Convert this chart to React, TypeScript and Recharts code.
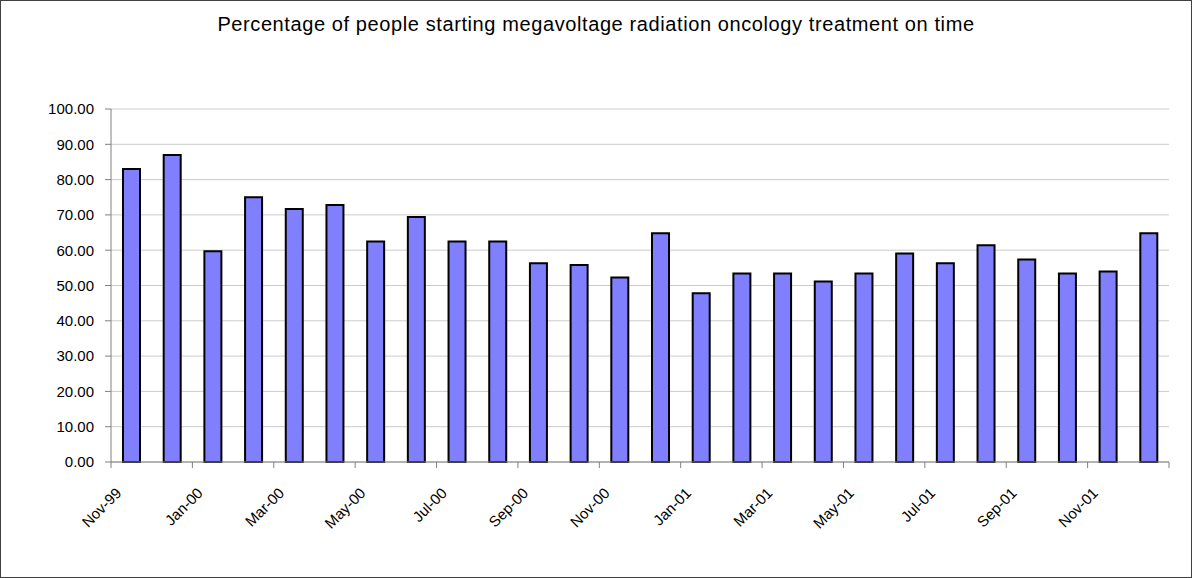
import { BarChart, Bar, XAxis, YAxis, CartesianGrid } from "recharts";

const months = [
    "Nov-99", "Dec-99", "Jan-00", "Feb-00", "Mar-00", "Apr-00", "May-00",
    "Jun-00", "Jul-00", "Aug-00", "Sep-00", "Oct-00", "Nov-00", "Dec-00",
    "Jan-01", "Feb-01", "Mar-01", "Apr-01", "May-01", "Jun-01", "Jul-01",
    "Aug-01", "Sep-01", "Oct-01", "Nov-01", "Dec-01",
];

const onTime = [
    83.0, 87.0, 59.7, 75.0, 71.7, 72.8, 62.5, 69.4, 62.5, 62.5, 56.3, 55.8,
    52.3, 64.8, 47.8, 53.4, 53.4, 51.1, 53.4, 59.1, 56.3, 61.4, 57.4, 53.4,
    54.0, 64.8,
];

const yTicks = [0, 10, 20, 30, 40, 50, 60, 70, 80, 90, 100];

const data = months.map((m, i) => ({ month: m, value: onTime[i] }));

const W = 1192;
const H = 578;
const LEFT = 111;
const RIGHT = 23;
const TOP = 109;
const XAXIS_H = 116;
const BAND = (W - LEFT - RIGHT) / months.length;
const FONT = "'Liberation Sans', Arial, sans-serif";

// labels every other month, tick marks on category boundaries
// eslint-disable-next-line @typescript-eslint/no-explicit-any
function MonthTick(props: any) {
    const { x, y, index, payload } = props;
    const left = x - BAND / 2;
    const showLabel = index % 2 === 0;
    return (
        <g>
            {showLabel && (
                <line x1={left} x2={left} y1={y} y2={y + 6} stroke="#808080" />
            )}
            {index === months.length - 1 && (
                <line x1={x + BAND / 2} x2={x + BAND / 2} y1={y} y2={y + 6} stroke="#808080" />
            )}
            {showLabel && (
                <text
                    x={x - 9}
                    y={y + 32}
                    textAnchor="end"
                    fontSize={15}
                    fontFamily={FONT}
                    fill="#000"
                    transform={`rotate(-45 ${x - 9} ${y + 32})`}
                >
                    {payload.value}
                </text>
            )}
        </g>
    );
}

export default function App() {
    return (
        <div style={{ position: "relative", width: W, height: H, background: "#fff" }}>
            <style>{"body{margin:0}"}</style>
            <div
                style={{
                    position: "absolute",
                    left: 0,
                    top: 0,
                    width: W - 2,
                    height: H - 2,
                    border: "1px solid #404040",
                    pointerEvents: "none",
                }}
            />
            <div
                style={{
                    position: "absolute",
                    top: 13,
                    left: 0,
                    width: W,
                    textAlign: "center",
                    fontFamily: FONT,
                    fontSize: 20,
                    letterSpacing: 0.6,
                    color: "#000",
                }}
            >
                Percentage of people starting megavoltage radiation oncology treatment on time
            </div>
            <BarChart
                width={W}
                height={H}
                data={data}
                margin={{ top: TOP, right: RIGHT, bottom: 0, left: 0 }}
                barSize={17}
            >
                <CartesianGrid vertical={false} stroke="#cccccc" />
                <XAxis
                    dataKey="month"
                    interval={0}
                    height={XAXIS_H}
                    tickLine={false}
                    tickSize={0}
                    tickMargin={0}
                    axisLine={{ stroke: "#808080" }}
                    tick={<MonthTick />}
                />
                <YAxis
                    domain={[0, 100]}
                    ticks={yTicks}
                    width={LEFT}
                    tickSize={6}
                    tickMargin={11}
                    interval={0}
                    tickFormatter={(v: number) => v.toFixed(2)}
                    axisLine={{ stroke: "#808080" }}
                    tickLine={{ stroke: "#808080" }}
                    tick={{ fontSize: 15, fontFamily: FONT, fill: "#000" }}
                />
                <Bar
                    dataKey="value"
                    fill="#8080ff"
                    stroke="#000"
                    strokeWidth={2}
                    isAnimationActive={false}
                />
            </BarChart>
        </div>
    );
}
